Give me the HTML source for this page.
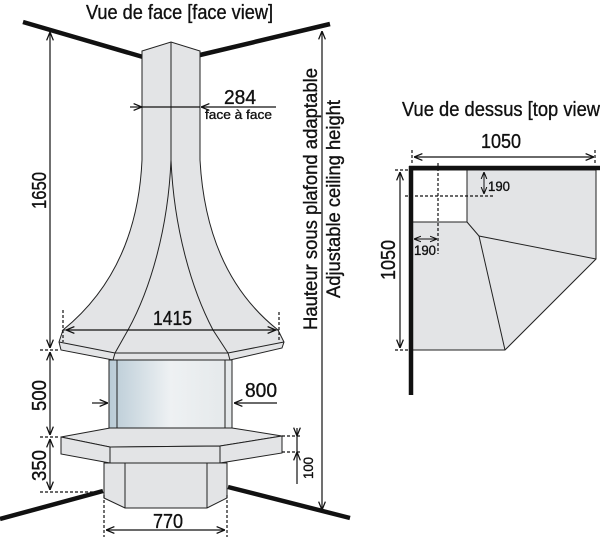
<!DOCTYPE html>
<html><head><meta charset="utf-8"><style>
html,body{margin:0;padding:0;background:#fff;}
svg{display:block;}
text{font-family:"Liberation Sans",sans-serif;fill:#111;stroke:#111;stroke-width:0.35;}
</style></head><body>
<svg width="600" height="539" viewBox="0 0 600 539" xmlns="http://www.w3.org/2000/svg">
<defs>
<linearGradient id="gl" x1="0" x2="1" y1="0" y2="0">
<stop offset="0" stop-color="#b9cbd6"/><stop offset="0.5" stop-color="#eef1f3"/><stop offset="1" stop-color="#e4e8ea"/>
</linearGradient>
<marker id="a" viewBox="0 0 10 10" refX="10" refY="5" markerWidth="7" markerHeight="7" orient="auto-start-reverse"><path d="M0,1 L10,5 L0,9" fill="none" stroke="#111" stroke-width="1.5"/></marker>
</defs>
<g stroke="#111" fill="none">
<line x1="23" y1="22" x2="143" y2="57" stroke-width="4.5"/>
<line x1="200" y1="55" x2="330" y2="24" stroke-width="4.5"/>
<line x1="0" y1="519" x2="103" y2="491" stroke-width="4.5"/>
<line x1="228" y1="487" x2="350" y2="518" stroke-width="4.5"/>
</g>
<g stroke="#222" stroke-width="1" fill="#e3e4e6">
<path d="M142,51 L171,42 L200,51 L200,160 C205,250 240,300 278,330 L63,330 C100,300 138,250 142,160 Z"/>
<path d="M171,160 C168,230 150,290 128,330 M171,42 L171,160 C174,230 192,290 213,330" fill="none"/>
<path d="M63,330 L278,330 L284,342 L282,348 L230,360 L113,360 L61,350 L59,342 Z"/>
<path d="M59,342 L115,353 L228,353 L284,342 M115,353 L113,360 M228,353 L230,360 M128,330 L115,353 M213,330 L228,353" fill="none"/>
<rect x="109" y="360" width="123" height="82" fill="url(#gl)"/>
<path d="M117,360 L117,442 M225,360 L225,442" fill="none"/>
<path d="M61,437 L110,428 L232,428 L282,436 L220,446 L110,447 Z"/>
<path d="M61,437 L110,447 L110,463 L61,454 Z"/>
<path d="M110,447 L220,446 L220,463 L110,463 Z"/>
<path d="M220,446 L282,436 L282,453 L220,463 Z"/>
<path d="M104,463 L227,463 L227,498 L207,508 L125,508 L104,498 Z"/>
<path d="M125,463 L125,508 M207,463 L207,508" fill="none"/>
</g>
<g stroke="#111" stroke-width="1.2" fill="none">
<line x1="50" y1="32" x2="50" y2="348" marker-start="url(#a)" marker-end="url(#a)"/>
<line x1="50" y1="352" x2="50" y2="435" marker-start="url(#a)" marker-end="url(#a)"/>
<line x1="50" y1="439" x2="50" y2="490" marker-start="url(#a)" marker-end="url(#a)"/>
<line x1="322" y1="31" x2="322" y2="510" marker-start="url(#a)" marker-end="url(#a)"/>
<line x1="130" y1="107" x2="142" y2="107" marker-end="url(#a)"/>
<line x1="142" y1="107" x2="200" y2="107"/>
<line x1="276" y1="107" x2="201" y2="107" marker-end="url(#a)"/>
<line x1="66" y1="330" x2="276" y2="330" marker-start="url(#a)" marker-end="url(#a)"/>
<line x1="92" y1="403" x2="108" y2="403" marker-end="url(#a)"/>
<line x1="277" y1="403" x2="234" y2="403" marker-end="url(#a)"/>
<line x1="297" y1="428" x2="297" y2="436" marker-end="url(#a)"/>
<line x1="297" y1="436" x2="297" y2="452"/>
<line x1="297" y1="484" x2="297" y2="452" marker-end="url(#a)"/>
<line x1="106" y1="530" x2="225" y2="530" marker-start="url(#a)" marker-end="url(#a)"/>
<g stroke-dasharray="3,2">
<line x1="40" y1="350" x2="60" y2="350"/>
<line x1="40" y1="437" x2="60" y2="437"/>
<line x1="40" y1="492" x2="104" y2="492"/>
<line x1="63" y1="310" x2="63" y2="342"/>
<line x1="279" y1="312" x2="279" y2="342"/>
<line x1="282" y1="436" x2="300" y2="436"/>
<line x1="282" y1="452" x2="300" y2="452"/>
<line x1="104" y1="495" x2="104" y2="537"/>
<line x1="227" y1="495" x2="227" y2="537"/>
</g>
</g>
<g font-size="20">
<text x="86" y="19" textLength="187" lengthAdjust="spacingAndGlyphs">Vue de face [face view]</text>
<text x="224" y="104" textLength="32" lengthAdjust="spacingAndGlyphs">284</text>
<text x="205" y="119" font-size="13" textLength="67" lengthAdjust="spacingAndGlyphs">face à face</text>
<text x="153" y="325" textLength="39" lengthAdjust="spacingAndGlyphs">1415</text>
<text x="245" y="397" textLength="32" lengthAdjust="spacingAndGlyphs">800</text>
<text x="153" y="528" textLength="30" lengthAdjust="spacingAndGlyphs">770</text>
<text transform="translate(46,209) rotate(-90)" textLength="37" lengthAdjust="spacingAndGlyphs">1650</text>
<text transform="translate(46,411) rotate(-90)" textLength="31" lengthAdjust="spacingAndGlyphs">500</text>
<text transform="translate(46,481) rotate(-90)" textLength="31" lengthAdjust="spacingAndGlyphs">350</text>
<text transform="translate(313,479) rotate(-90)" font-size="14" textLength="22" lengthAdjust="spacingAndGlyphs">100</text>
<text transform="translate(317,330) rotate(-90)" font-size="19" textLength="262" lengthAdjust="spacingAndGlyphs">Hauteur sous plafond adaptable</text>
<text transform="translate(340,298) rotate(-90)" font-size="19" textLength="198" lengthAdjust="spacingAndGlyphs">Adjustable ceiling height</text>
</g>
<g stroke="#222" stroke-width="1" fill="#e3e4e6">
<path d="M467,170 L596,170 L596,259 L505,350 L411,350 L411,222 L467,222 Z"/>
<rect x="411" y="170" width="56" height="52" fill="#fff"/>
<path d="M467,222 L479,236 L596,259 M479,236 L505,350" fill="none"/>
</g>
<g stroke="#111" fill="none">
<line x1="409" y1="168" x2="600" y2="168" stroke-width="4.5"/>
<line x1="411" y1="166" x2="411" y2="395" stroke-width="4.5"/>
<g stroke-width="1.2">
<line x1="414" y1="157" x2="594" y2="157" marker-start="url(#a)" marker-end="url(#a)"/>
<line x1="400" y1="172" x2="400" y2="348" marker-start="url(#a)" marker-end="url(#a)"/>
<line x1="484" y1="172" x2="484" y2="194" marker-start="url(#a)" marker-end="url(#a)" stroke-width="1"/>
<line x1="414" y1="239" x2="437" y2="239" marker-start="url(#a)" marker-end="url(#a)" stroke-width="1"/>
<g stroke-dasharray="3,2">
<line x1="412" y1="150" x2="412" y2="164"/>
<line x1="595" y1="150" x2="595" y2="164"/>
<line x1="395" y1="170" x2="409" y2="170"/>
<line x1="395" y1="350" x2="409" y2="350"/>
<line x1="405" y1="196" x2="493" y2="196"/>
<line x1="438" y1="163" x2="438" y2="254"/>
</g>
</g>
</g>
<g font-size="20">
<text x="402" y="116" textLength="198" lengthAdjust="spacingAndGlyphs">Vue de dessus [top view</text>
<text x="481" y="148" textLength="40" lengthAdjust="spacingAndGlyphs">1050</text>
<text transform="translate(395,280) rotate(-90)" textLength="40" lengthAdjust="spacingAndGlyphs">1050</text>
<text x="488" y="191" font-size="14" textLength="22" lengthAdjust="spacingAndGlyphs" stroke-width="0">190</text>
<text x="414" y="255" font-size="14" textLength="22" lengthAdjust="spacingAndGlyphs" stroke-width="0">190</text>
</g>
</svg>
</body></html>
